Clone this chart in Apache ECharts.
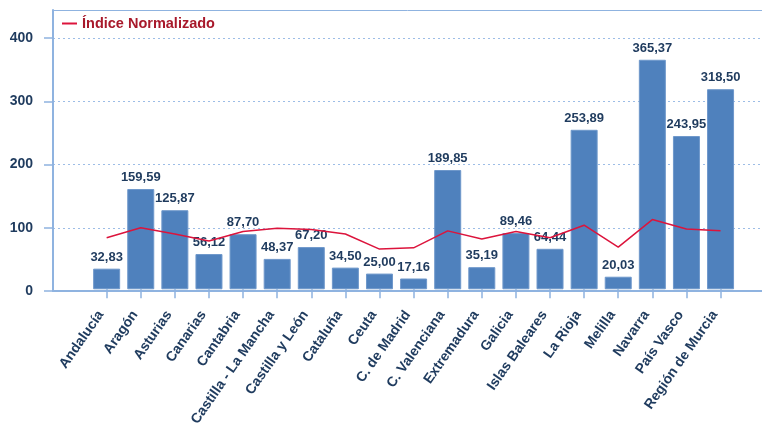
<!DOCTYPE html>
<html>
<head>
<meta charset="utf-8">
<script src="https://cdn.jsdelivr.net/npm/echarts@6/dist/echarts.min.js"></script>
<style>html,body{margin:0;padding:0;background:#fff}#c{width:762px;height:429px}</style>
</head>
<body>
<div id="c"></div>
<script>
var categories = ['Andalucía','Aragón','Asturias','Canarias','Cantabria','Castilla - La Mancha','Castilla y León','Cataluña','Ceuta','C. de Madrid','C. Valenciana','Extremadura','Galicia','Islas Baleares','La Rioja','Melilla','Navarra','País Vasco','Región de Murcia'];
var barValues = [32.83,159.59,125.87,56.12,87.70,48.37,67.20,34.50,25.00,17.16,189.85,35.19,89.46,64.44,253.89,20.03,365.37,243.95,318.50];
var indiceNormalizado = [82,98,88,77,92,97,95,88,64,66,93,80,92,82,102,67,111,96,93];
var yTicks = [0,100,200,300,400];

var FONT = 'Liberation Sans, Arial, sans-serif';
var NAVY = '#1F3B5E';
var AXIS = '#8FB3E0';
var chart = echarts.init(document.getElementById('c'));
chart.setOption({
  animation: false,
  legend: {
    show: true, data: ['Índice Normalizado'], left: 57, top: 11,
    icon: 'rect', itemWidth: 15, itemHeight: 2, itemGap: 5,
    textStyle: {color: '#A8192B', fontWeight: 'bold', fontSize: 14.5, fontFamily: FONT}
  },
  grid: [
    {left: 53, right: 0, top: 38, bottom: 138},
    {left: 53, right: 0, top: 10, bottom: 138},
    {left: 89.6, right: 24.4, top: 38, bottom: 138}
  ],
  xAxis: [
    {gridIndex: 0, type: 'value', show: false},
    {gridIndex: 1, type: 'value', position: 'bottom', axisLine: {show: true, lineStyle: {color: AXIS, width: 2}}, axisTick: {show: false}, axisLabel: {show: false}, splitLine: {show: false}},
    {gridIndex: 1, type: 'value', position: 'top', axisLine: {show: true, onZero: false, lineStyle: {color: AXIS, width: 1}}, axisTick: {show: false}, axisLabel: {show: false}, splitLine: {show: false}},
    {gridIndex: 2, type: 'category', data: categories,
      axisLine: {show: false},
      axisTick: {show: true, alignWithLabel: true, length: 9, lineStyle: {color: AXIS, width: 1.5}},
      axisLabel: {rotate: 55, interval: 0, margin: 27, verticalAlign: 'bottom', color: NAVY, fontWeight: 'bold', fontSize: 14, fontFamily: FONT}
    }
  ],
  yAxis: [
    {gridIndex: 0, type: 'value', min: yTicks[0], max: yTicks[yTicks.length-1], interval: 100,
      axisLine: {show: false},
      axisTick: {show: true, length: 9, lineStyle: {color: AXIS, width: 1.5}},
      axisLabel: {margin: 20, color: NAVY, fontWeight: 'bold', fontSize: 14, fontFamily: FONT},
      splitLine: {show: true, lineStyle: {color: '#9DBDE6', type: [2, 3], width: 1}}
    },
    {gridIndex: 1, type: 'value', axisLine: {show: true, lineStyle: {color: AXIS, width: 2}}, axisTick: {show: false}, axisLabel: {show: false}, splitLine: {show: false}},
    {gridIndex: 2, type: 'value', min: 0, max: 400, show: false}
  ],
  series: [
    {type: 'bar', name: 'Valor', xAxisIndex: 3, yAxisIndex: 2, data: barValues, barWidth: 27,
      itemStyle: {color: '#4F81BD', borderColor: '#6F98CB', borderWidth: 1},
      label: {show: true, position: 'top', distance: 5, color: NAVY, fontWeight: 'bold', fontSize: 13, fontFamily: FONT,
        formatter: function(p){ return p.value.toFixed(2).replace('.', ','); }}
    },
    {type: 'line', name: 'Índice Normalizado', xAxisIndex: 3, yAxisIndex: 2, data: indiceNormalizado,
      symbol: 'none', lineStyle: {color: '#DC143C', width: 1.5}, itemStyle: {color: '#DC143C'}, z: 3}
  ]
});
</script>
</body>
</html>
